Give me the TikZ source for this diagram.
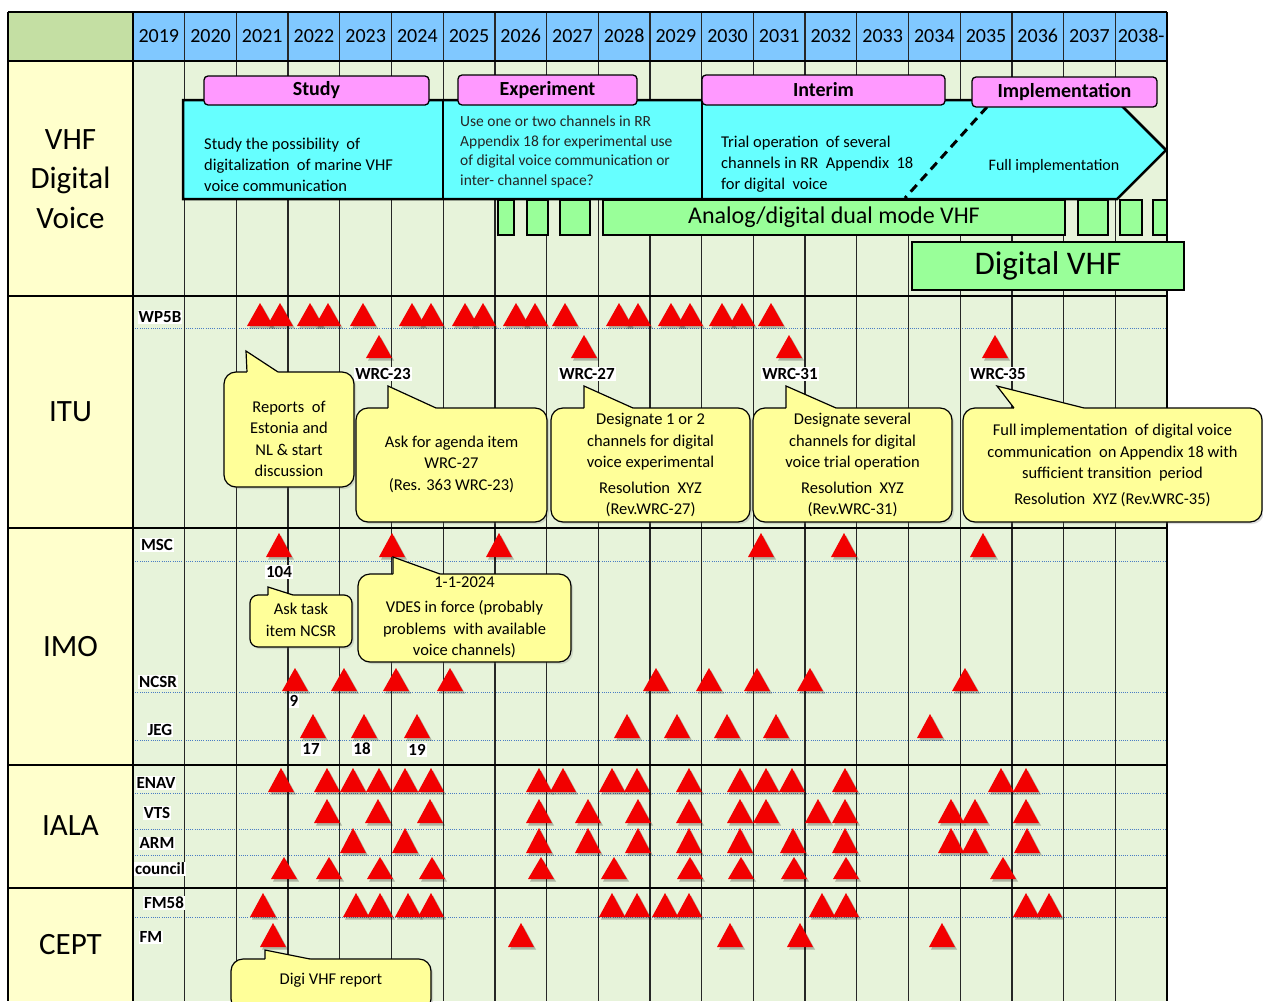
\documentclass[tikz,border=0pt]{standalone}
\usepackage{fontspec}
\setmainfont{Carlito}
\usetikzlibrary{calc,shadows}
\definecolor{hdrgreen}{HTML}{C4DFA3}
\definecolor{hdrblue}{HTML}{80C8FF}
\definecolor{lblyellow}{HTML}{FFFFCC}
\definecolor{gridbg}{HTML}{E7F3DA}
\definecolor{tabpink}{HTML}{FF99FF}
\definecolor{bandcyan}{HTML}{66FFFF}
\definecolor{barg}{HTML}{99FF99}
\definecolor{callyel}{HTML}{FFFF99}
\definecolor{trired}{HTML}{F20000}
\definecolor{dotblue}{HTML}{4A7CC4}
\tikzset{
 gridline/.style={line width=1.3pt, black!85},
 secline/.style={line width=2.8pt, black},
 rowline/.style={dotblue, line width=1pt, dash pattern=on 1pt off 1.2pt},
 yearlbl/.style={font=\fontsize{20}{24}\selectfont},
 seclbl/.style={font=\fontsize{31}{39.5}\selectfont, align=center},
 tabbox/.style={draw=black, line width=1.3pt, fill=tabpink, rounded corners=4pt, font=\bfseries\fontsize{20}{24}\selectfont, inner sep=0pt},
 bandtxt/.style={font=\fontsize{16.5}{21}\selectfont, align=left, inner sep=0pt},
 smalltxt/.style={font=\fontsize{15.5}{19.5}\selectfont, align=left, inner sep=0pt, text=black!85},
 barbox/.style={draw=black, line width=1.3pt, fill=barg},
 rowlbl/.style={fill=white, inner sep=1pt, font=\bfseries\fontsize{17}{20}\selectfont},
 wrclbl/.style={fill=white, inner sep=1pt, font=\bfseries\fontsize{17}{20}\selectfont},
 callbox/.style={draw=black, line width=1.2pt, fill=callyel, rounded corners=12pt, inner sep=0pt,
   drop shadow={shadow xshift=2pt, shadow yshift=-2pt, opacity=.25}},
 calltxt/.style={align=center, inner sep=0pt, font=\fontsize{16.5}{21.5}\selectfont},
}
\newcommand{\trirow}[3]{%
 \foreach \xx in {#3}{%
  \fill[black, opacity=.25] (\xx-11,#1+2.5) -- (\xx+15,#1+2.5) -- (\xx+2,#1-#2+2.5) -- cycle;
  \fill[trired] (\xx-13,#1) -- (\xx+13,#1) -- (\xx,#1-#2) -- cycle;
 }}
% pointer: tip x, tip y, base x1, base x2, box top y
\newcommand{\calptr}[5]{%
 \fill[callyel] (#1,#2) -- (#3,#5) -- (#3,#5+2) -- (#4,#5+2) -- (#4,#5) -- cycle;
 \draw[line width=1.2pt, line join=miter] (#3,#5) -- (#1,#2) -- (#4,#5);}
\begin{document}
\begin{tikzpicture}[x=1pt,y=-1pt]
\clip (0,0) rectangle (1263,1001);
\fill[white] (0,0) rectangle (1263,1001);
% backgrounds
\fill[hdrgreen] (8,12) rectangle (133,61);
\fill[hdrblue] (133,12) rectangle (1167,61);
\fill[lblyellow] (8,61) rectangle (133,1001);
\fill[gridbg] (133,61) rectangle (1167,1001);
% dotted row lines
\foreach \yy in {328,561,692,740,793,829,855,917} \draw[rowline] (133,\yy) -- (1167,\yy);
% column lines
\foreach \k in {1,...,19} \draw[gridline] ({133+51.7*\k},12) -- ({133+51.7*\k},1001);
% years
\foreach \yr [count=\k from 0] in {2019,...,2037} \node[yearlbl] (y\yr) at ({133+51.7*(\k+0.5)},36) {\yr};
\node[yearlbl] (y2038) at ({133+51.7*19.5},36) {2038-};
% section lines and borders
\foreach \yy in {12,61,296,528,765,888} \draw[secline] (8,\yy) -- (1167,\yy);
\draw[secline] (8,12) -- (8,1001);
\draw[secline] (133,12) -- (133,1001);
\draw[line width=2pt] (1167,12) -- (1167,1001);
% section labels
\node[seclbl] (sVHF) at (70.5,179) {VHF\\Digital\\Voice};
\node[seclbl] (sITU) at (70.5,412) {ITU};
\node[seclbl] (sIMO) at (70.5,647) {IMO};
\node[seclbl] (sIALA) at (70.5,826) {IALA};
\node[seclbl] (sCEPT) at (70.5,945) {CEPT};
% ---- VHF digital voice ----
\filldraw[fill=bandcyan, draw=black, line width=2.5pt, line join=miter]
  (183,100) -- (1116,100) -- (1166,150) -- (1117,199) -- (183,199) -- cycle;
\draw[line width=2.5pt] (443,100) -- (443,199);
\draw[line width=2.5pt] (702,100) -- (702,199);
\draw[line width=3pt, dash pattern=on 9pt off 6pt] (987,107) -- (905,198);
\node[tabbox, minimum width=225, minimum height=29] (tStudy) at (316.5,90.5) {Study};
\node[tabbox, minimum width=179, minimum height=30] (tExp) at (547.5,90) {Experiment};
\node[tabbox, minimum width=243, minimum height=30] (tInt) at (823.5,90) {Interim};
\node[tabbox, minimum width=185, minimum height=30] (tImp) at (1064.5,92) {Implementation};
\node[bandtxt, anchor=west] (bStudy) at (204,164.5) {Study the possibility\ \ of\\digitalization\ \ of marine VHF\\voice communication};
\node[smalltxt, anchor=west] (bExp) at (460,152) {Use one or two channels in RR\\Appendix 18 for experimental use\\of digital voice communication or\\inter- channel space?};
\node[bandtxt, anchor=west] (bInt) at (721,164.5) {Trial operation\ \ of several\\channels in RR\ \ Appendix\ \ 18\\for digital\ \ voice};
\node[bandtxt, font=\fontsize{16}{20}\selectfont] (bFull) at (1054,166) {Full implementation};
% green bars
\draw[barbox] (498,200) rectangle (514,235);
\draw[barbox] (527,200) rectangle (548,235);
\draw[barbox] (560,200) rectangle (590,235);
\node[barbox, minimum width=462, minimum height=35, inner sep=0pt, font=\fontsize{24}{28}\selectfont] (dual) at (834,217.5) {Analog/digital dual mode VHF};
\draw[barbox] (1078,200) rectangle (1108,235);
\draw[barbox] (1120,200) rectangle (1142,235);
\draw[barbox] (1153,200) rectangle (1167,235);
\node[barbox, minimum width=272, minimum height=48, inner sep=0pt, font=\fontsize{33}{38}\selectfont] (digvhf) at (1048,266) {Digital VHF};
% ---- row labels ----
\node[rowlbl] (lWP) at (160,317) {WP5B};
\node[rowlbl] (lMSC) at (157,545) {MSC};
\node[rowlbl] (lNCSR) at (158,682) {NCSR};
\node[rowlbl] (lJEG) at (160,730) {JEG};
\node[rowlbl] (lENAV) at (156,783) {ENAV};
\node[rowlbl] (lVTS) at (157,813) {VTS};
\node[rowlbl] (lARM) at (157,843) {ARM};
\node[rowlbl] (lcouncil) at (160,869) {council};
\node[rowlbl] (lFM58) at (164,903) {FM58};
\node[rowlbl] (lFM) at (151,937) {FM};
% ---- triangles ----
\trirow{326}{23}{260,280,310,328,363,412,431,465,483,516,535,565,619,638,671,690,722,742,771}
\trirow{358}{23}{379,584,789,995}
\trirow{557}{24}{279,392,499,761,844,983}
\trirow{691}{23}{295,344,396,450,656,709,757,810,965}
\trirow{738}{24}{313,364,417,627,677,727,776,930}
\trirow{792}{24}{281,327,353,379,405,431,539,563,612,637,689,740,766,792,845,1001,1026}
\trirow{823}{24}{327,378,430,539,588,638,689,740,766,818,845,951,975,1026}
\trirow{853}{25}{353,405,539,588,638,689,740,793,845,951,975,1027}
\trirow{879}{22}{284,329,380,432,541,614,690,741,794,846,1003}
\trirow{917}{24}{263,356,380,408,431,612,637,665,689,822,846,1026,1049}
\trirow{947}{24}{273,521,730,800,942}
% WRC and number labels
\node[wrclbl] (w23) at (383,374) {WRC-23};
\node[wrclbl] (w27) at (587,374) {WRC-27};
\node[wrclbl] (w31) at (790,374) {WRC-31};
\node[wrclbl] (w35) at (998,374) {WRC-35};
\node[rowlbl] (n104) at (279,572) {104};
\node[rowlbl] (n9) at (294,701) {9};
\node[rowlbl] (n17) at (311,749) {17};
\node[rowlbl] (n18) at (362,749) {18};
\node[rowlbl] (n19) at (417,750) {19};
% ---- callouts ----
\node[callbox, minimum width=130, minimum height=115] (c1) at (289,429.5) {};
\calptr{246}{351}{247}{278}{372}
\node[calltxt] (c1t) at (289,439) {Reports\ \ of\\Estonia and\\NL \& start\\discussion};
\node[callbox, minimum width=191, minimum height=114] (c2) at (451.5,465) {};
\calptr{388}{386}{388}{436}{408}
\node[calltxt] (c2t) at (451.5,464) {Ask for agenda item\\WRC-27\\(Res. 363 WRC-23)};
\node[callbox, minimum width=199, minimum height=114] (c3) at (650.5,465) {};
\calptr{584}{386}{584}{633}{408}
\node[calltxt] (c3t) at (650.5,465) {Designate 1 or 2\\channels for digital\\voice experimental\\[4pt]Resolution\ \ XYZ\\(Rev.WRC-27)};
\node[callbox, minimum width=199, minimum height=114] (c4) at (852.5,465) {};
\calptr{786}{386}{786}{836}{408}
\node[calltxt] (c4t) at (852.5,465) {Designate several\\channels for digital\\voice trial operation\\[4pt]Resolution\ \ XYZ\\(Rev.WRC-31)};
\node[callbox, minimum width=299, minimum height=114] (c5) at (1112.5,465) {};
\calptr{997}{386}{1014}{1084}{408}
\node[calltxt] (c5t) at (1112.5,465.5) {Full implementation\ \ of digital voice\\communication\ \ on Appendix 18 with\\sufficient transition\ \ period\\[4pt]Resolution\ \ XYZ (Rev.WRC-35)};
\node[callbox, rounded corners=8pt, minimum width=102, minimum height=52] (c6) at (301,621) {};
\calptr{268}{587}{268}{293}{595}
\node[calltxt] (c6t) at (301,620) {Ask task\\item NCSR};
\node[callbox, minimum width=213, minimum height=88] (c7) at (464.5,618) {};
\calptr{393}{557}{393}{440}{574}
\node[calltxt] (c7t) at (464.5,617.5) {1-1-2024\\[4pt]VDES in force (probably\\problems\ \ with available\\voice channels)};
\node[callbox, minimum width=200, minimum height=52] (c8) at (331,985) {};
\calptr{265}{950}{265}{310}{959}
\node[calltxt] (c8t) at (331,980) {Digi VHF report};
\end{tikzpicture}
\end{document}
